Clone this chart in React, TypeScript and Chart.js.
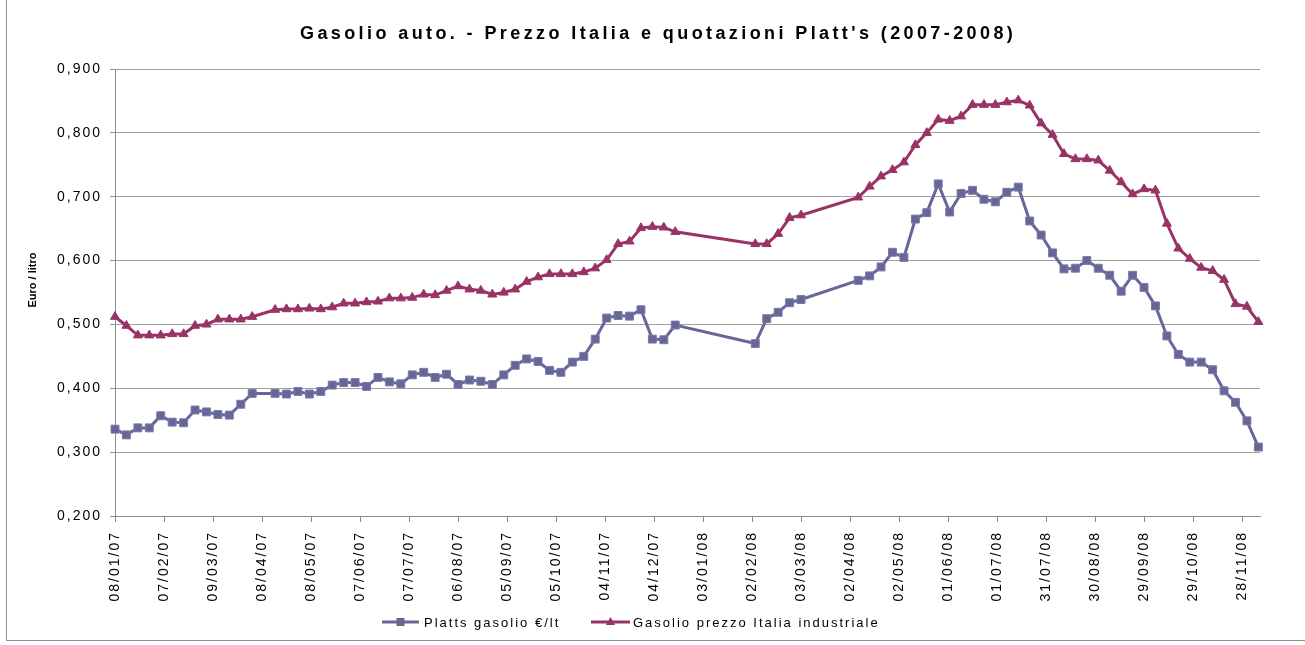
import React, { useEffect, useRef } from "react";
import { Chart, registerables } from "chart.js";

Chart.register(...registerables);

const TITLE = "Gasolio auto. - Prezzo Italia e quotazioni Platt's (2007-2008)";
const Y_TITLE = "Euro / litro";
const SERIES_NAMES = ["Platts gasolio €/lt", "Gasolio prezzo Italia industriale"];
const SERIES_COLORS = ["#666699", "#993366"];

// Weekly observation dates (dd/mm/yy)
const dates = [
  "08/01/07", "15/01/07", "22/01/07", "29/01/07", "05/02/07", "12/02/07", "19/02/07", "26/02/07",
  "05/03/07", "12/03/07", "19/03/07", "26/03/07", "02/04/07", "16/04/07", "23/04/07", "30/04/07",
  "07/05/07", "14/05/07", "21/05/07", "28/05/07", "04/06/07", "11/06/07", "18/06/07", "25/06/07",
  "02/07/07", "09/07/07", "16/07/07", "23/07/07", "30/07/07", "06/08/07", "13/08/07", "20/08/07",
  "27/08/07", "03/09/07", "10/09/07", "17/09/07", "24/09/07", "01/10/07", "08/10/07", "15/10/07",
  "22/10/07", "29/10/07", "05/11/07", "12/11/07", "19/11/07", "26/11/07", "03/12/07", "10/12/07",
  "17/12/07", "04/02/08", "11/02/08", "18/02/08", "25/02/08", "03/03/08", "07/04/08", "14/04/08",
  "21/04/08", "28/04/08", "05/05/08", "12/05/08", "19/05/08", "26/05/08", "02/06/08", "09/06/08",
  "16/06/08", "23/06/08", "30/06/08", "07/07/08", "14/07/08", "21/07/08", "28/07/08", "04/08/08",
  "11/08/08", "18/08/08", "25/08/08", "01/09/08", "08/09/08", "15/09/08", "22/09/08", "29/09/08",
  "06/10/08", "13/10/08", "20/10/08", "27/10/08", "03/11/08", "10/11/08", "17/11/08", "24/11/08",
  "01/12/08", "08/12/08",
];

const plattsValues = [
  0.336, 0.327, 0.338, 0.338, 0.357, 0.347, 0.346, 0.366,
  0.363, 0.359, 0.358, 0.375, 0.392, 0.392, 0.391, 0.395,
  0.391, 0.395, 0.405, 0.409, 0.409, 0.403, 0.417, 0.410,
  0.407, 0.421, 0.425, 0.417, 0.422, 0.406, 0.413, 0.411,
  0.406, 0.421, 0.436, 0.446, 0.442, 0.428, 0.425, 0.441,
  0.450, 0.477, 0.510, 0.514, 0.513, 0.523, 0.477, 0.476,
  0.499, 0.470, 0.509, 0.519, 0.534, 0.539, 0.569, 0.576,
  0.590, 0.613, 0.605, 0.665, 0.675, 0.720, 0.676, 0.705,
  0.710, 0.696, 0.692, 0.707, 0.715, 0.662, 0.640, 0.612,
  0.587, 0.588, 0.600, 0.588, 0.577, 0.552, 0.577, 0.558,
  0.529, 0.482, 0.453, 0.441, 0.441, 0.429, 0.396, 0.378,
  0.349, 0.308,
];

const italiaValues = [
  0.512, 0.498, 0.483, 0.483, 0.483, 0.485, 0.485, 0.498,
  0.500, 0.508, 0.508, 0.508, 0.512, 0.523, 0.524, 0.524,
  0.525, 0.524, 0.527, 0.533, 0.533, 0.535, 0.536, 0.541,
  0.541, 0.542, 0.547, 0.546, 0.553, 0.560, 0.555, 0.553,
  0.547, 0.550, 0.555, 0.567, 0.574, 0.579, 0.579, 0.579,
  0.582, 0.588, 0.601, 0.626, 0.630, 0.651, 0.653, 0.652,
  0.645, 0.626, 0.626, 0.642, 0.667, 0.671, 0.699, 0.716,
  0.732, 0.742, 0.754, 0.781, 0.800, 0.821, 0.819, 0.826,
  0.844, 0.844, 0.844, 0.848, 0.851, 0.843, 0.815, 0.797,
  0.767, 0.759, 0.759, 0.757, 0.741, 0.723, 0.704, 0.712,
  0.710, 0.658, 0.619, 0.603, 0.589, 0.584, 0.570, 0.532,
  0.528, 0.504,
];

const xTickLabels = [
  "08/01/07", "07/02/07", "09/03/07", "08/04/07", "08/05/07", "07/06/07", "07/07/07", "06/08/07",
  "05/09/07", "05/10/07", "04/11/07", "04/12/07", "03/01/08", "02/02/08", "03/03/08", "02/04/08",
  "02/05/08", "01/06/08", "01/07/08", "31/07/08", "30/08/08", "29/09/08", "29/10/08", "28/11/08",
];
const xAxisEnd = "09/12/08";

const yTickValues = [0.2, 0.3, 0.4, 0.5, 0.6, 0.7, 0.8, 0.9];
const yTickLabels = ["0,200", "0,300", "0,400", "0,500", "0,600", "0,700", "0,800", "0,900"];

const FONT = "Arial, 'Liberation Sans', sans-serif";
const BASE = Date.UTC(2007, 0, 8);
function dayOffset(s: string): number {
  const [d, m, y] = s.split("/").map(Number);
  return Math.round((Date.UTC(2000 + y, m - 1, d) - BASE) / 86400000);
}

function drawMarker(ctx: CanvasRenderingContext2D, style: string, x: number, y: number, color: string) {
  ctx.fillStyle = color;
  ctx.beginPath();
  if (style === "rect") {
    ctx.rect(x - 4, y - 4, 8, 8);
  } else {
    ctx.moveTo(x, y - 5);
    ctx.lineTo(x + 4.5, y + 3);
    ctx.lineTo(x - 4.5, y + 3);
    ctx.closePath();
  }
  ctx.fill();
}

const decorPlugin = {
  id: "decor",
  beforeDraw(chart: any) {
    (chart.ctx as any).letterSpacing = "2px";
  },
  afterDraw(chart: any) {
    const ctx = chart.ctx as CanvasRenderingContext2D;
    ctx.save();
    // frame
    ctx.strokeStyle = "#8c8c8c";
    ctx.lineWidth = 1;
    ctx.beginPath();
    ctx.moveTo(6.5, 0);
    ctx.lineTo(6.5, 640.5);
    ctx.lineTo(1305, 640.5);
    ctx.stroke();

    // title
    (ctx as any).letterSpacing = "3.4px";
    ctx.font = `bold 18px ${FONT}`;
    ctx.fillStyle = "#000";
    ctx.textAlign = "left";
    ctx.textBaseline = "alphabetic";
    ctx.fillText(TITLE, 300, 39);

    // y axis title
    (ctx as any).letterSpacing = "0px";
    ctx.save();
    ctx.translate(33, 280);
    ctx.rotate(-Math.PI / 2);
    ctx.font = `bold 11px ${FONT}`;
    ctx.textAlign = "center";
    ctx.textBaseline = "middle";
    ctx.fillText(Y_TITLE, 0, 0);
    ctx.restore();

    // legend
    const items = [
      { x1: 382, x2: 419, tx: 424, style: "rect" },
      { x1: 591, x2: 630, tx: 633, style: "triangle" },
    ];
    const ly = 622;
    items.forEach((it, i) => {
      ctx.strokeStyle = SERIES_COLORS[i];
      ctx.lineWidth = 3;
      ctx.beginPath();
      ctx.moveTo(it.x1, ly);
      ctx.lineTo(it.x2, ly);
      ctx.stroke();
      drawMarker(ctx, it.style, (it.x1 + it.x2) / 2, ly, SERIES_COLORS[i]);
      (ctx as any).letterSpacing = "2px";
      ctx.font = `13px ${FONT}`;
      ctx.fillStyle = "#000";
      ctx.textAlign = "left";
      ctx.textBaseline = "middle";
      ctx.fillText(SERIES_NAMES[i], it.tx, ly + 1);
    });
    ctx.restore();
  },
};

export default function App() {
  const canvasRef = useRef<HTMLCanvasElement | null>(null);

  useEffect(() => {
    const canvas = canvasRef.current;
    if (!canvas) return;
    const platts = dates.map((d, i) => ({ x: dayOffset(d), y: plattsValues[i] }));
    const italia = dates.map((d, i) => ({ x: dayOffset(d), y: italiaValues[i] }));

    const chart = new Chart(canvas, {
      type: "line",
      data: {
        datasets: [
          {
            label: SERIES_NAMES[0],
            data: platts,
            borderColor: SERIES_COLORS[0],
            backgroundColor: SERIES_COLORS[0],
            borderWidth: 3,
            pointStyle: "rect",
            pointRadius: 5.6,
            pointBorderWidth: 1,
            pointBorderColor: "#7a7aaa",
            tension: 0,
            clip: false as any,
          },
          {
            label: SERIES_NAMES[1],
            data: italia,
            borderColor: SERIES_COLORS[1],
            backgroundColor: SERIES_COLORS[1],
            borderWidth: 3,
            pointStyle: "triangle",
            pointRadius: 5.2,
            pointBorderWidth: 1,
            tension: 0,
            clip: false as any,
          },
        ],
      },
      options: {
        animation: false,
        responsive: false,
        devicePixelRatio: 1,
        layout: { padding: { top: 69, right: 45, bottom: 0, left: 0 } },
        plugins: {
          legend: { display: false },
          title: { display: false },
          tooltip: { enabled: false },
        },
        scales: {
          x: {
            type: "linear",
            min: 0,
            max: dayOffset(xAxisEnd),
            afterBuildTicks: (s: any) => {
              s.ticks = xTickLabels.map((l) => ({ value: dayOffset(l) }));
            },
            afterFit: (s: any) => {
              s.height = 129;
            },
            ticks: {
              autoSkip: false,
              maxRotation: 90,
              minRotation: 90,
              padding: 9,
              color: "#000",
              font: { family: FONT, size: 14 },
              callback: (_v: any, i: number) => xTickLabels[i],
            },
            grid: {
              drawOnChartArea: false,
              drawTicks: true,
              tickLength: 6,
              tickColor: "#8c8c8c",
            },
            border: { color: "#8c8c8c", width: 1 },
          },
          y: {
            type: "linear",
            min: 0.2,
            max: 0.9,
            afterBuildTicks: (s: any) => {
              s.ticks = yTickValues.map((v) => ({ value: v }));
            },
            afterFit: (s: any) => {
              s.width = 115;
            },
            ticks: {
              padding: 8,
              color: "#000",
              font: { family: FONT, size: 14 },
              callback: (_v: any, i: number) => yTickLabels[i],
            },
            grid: {
              color: "#a0a0a0",
              lineWidth: 1,
              drawTicks: true,
              tickLength: 5,
              tickColor: "#8c8c8c",
            },
            border: { color: "#8c8c8c", width: 1 },
          },
        },
      },
      plugins: [decorPlugin],
    });
    return () => chart.destroy();
  }, []);

  return (
    <div style={{ position: "fixed", left: 0, top: 0, width: 1305, height: 645, background: "#fff" }}>
      <canvas ref={canvasRef} width={1305} height={645} style={{ display: "block" }} />
    </div>
  );
}
